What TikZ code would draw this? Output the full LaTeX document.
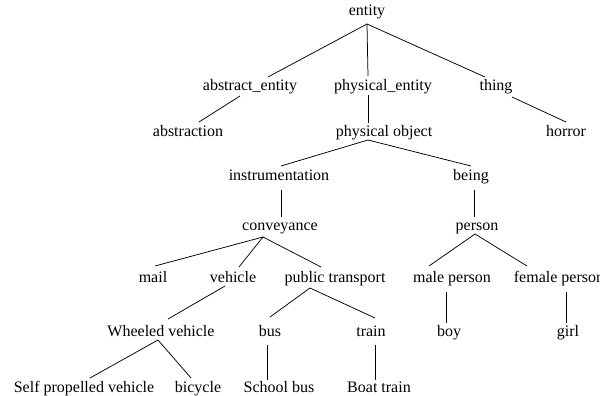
\documentclass[tikz,border=0pt]{standalone}
\usepackage{fontspec}
\setmainfont{Liberation Serif}
\begin{document}
\begin{tikzpicture}[x=1pt,y=-1pt,
  lbl/.style={inner sep=0pt,anchor=base,font=\fontsize{16}{18}\selectfont},
  edge/.style={line width=0.75pt,black}]
\useasboundingbox (0,0) rectangle (600,396);
% nodes
\node[lbl] (entity) at (367,16) {entity};
\node[lbl] (abstract) at (250,91) {abstract\_entity};
\node[lbl] (physical) at (383,91) {physical\_entity};
\node[lbl] (thing) at (496,91) {thing};
\node[lbl] (abstraction) at (188,136) {abstraction};
\node[lbl] (physobj) at (384,136) {physical object};
\node[lbl] (horror) at (566,136) {horror};
\node[lbl] (instr) at (279,180) {instrumentation};
\node[lbl] (being) at (471,180) {being};
\node[lbl] (conv) at (280,230) {conveyance};
\node[lbl] (person) at (477,230) {person};
\node[lbl] (mail) at (153,282) {mail};
\node[lbl] (vehicle) at (233,282) {vehicle};
\node[lbl] (public) at (335,282) {public transport};
\node[lbl] (male) at (452,282) {male person};
\node[lbl] (female) at (559,282) {female person};
\node[lbl] (wheeled) at (161,336) {Wheeled vehicle};
\node[lbl] (bus) at (270,336) {bus};
\node[lbl] (train) at (371,336) {train};
\node[lbl] (boy) at (449,336) {boy};
\node[lbl] (girl) at (568,336) {girl};
\node[lbl] (selfprop) at (84,392) {Self propelled vehicle};
\node[lbl] (bicycle) at (198,392) {bicycle};
\node[lbl] (schoolbus) at (279,392) {School bus};
\node[lbl] (boattrain) at (379,392) {Boat train};
% attachment points
\coordinate (entity-o) at (367,24);
\coordinate (abstract-i) at (268,77);
\coordinate (physical-i) at (368,76);
\coordinate (thing-i) at (485,77);
\coordinate (abstract-o) at (240,96);
\coordinate (abstraction-i) at (199,122);
\coordinate (thing-o) at (512,97);
\coordinate (horror-i) at (566,122);
\coordinate (physical-o) at (368,95);
\coordinate (physobj-i) at (368,123);
\coordinate (physobj-o) at (368,140);
\coordinate (instr-i) at (281,166);
\coordinate (being-i) at (471,166);
\coordinate (instr-o) at (281,190);
\coordinate (conv-i) at (281,217);
\coordinate (being-o) at (474,190);
\coordinate (person-i) at (474,217);
\coordinate (conv-o) at (263,237);
\coordinate (mail-i) at (155,266);
\coordinate (vehicle-i) at (239,267);
\coordinate (public-i) at (321,267);
\coordinate (person-o) at (475,234);
\coordinate (male-i) at (429,266);
\coordinate (female-i) at (527,266);
\coordinate (vehicle-o) at (225,286);
\coordinate (wheeled-i) at (168,319);
\coordinate (public-o) at (310,288);
\coordinate (bus-i) at (270,317);
\coordinate (train-i) at (375,318);
\coordinate (male-o) at (446,292);
\coordinate (boy-i) at (446,323);
\coordinate (female-o) at (566,292);
\coordinate (girl-i) at (566,323);
\coordinate (wheeled-o) at (158,340);
\coordinate (selfprop-i) at (90,378);
\coordinate (bicycle-i) at (191,378);
\coordinate (bus-o) at (267,345);
\coordinate (schoolbus-i) at (267,380);
\coordinate (train-o) at (375,345);
\coordinate (boattrain-i) at (375,380);
% edges
\draw[edge] (entity-o) -- (abstract-i);
\draw[edge] (entity-o) -- (physical-i);
\draw[edge] (entity-o) -- (thing-i);
\draw[edge] (abstract-o) -- (abstraction-i);
\draw[edge] (thing-o) -- (horror-i);
\draw[edge] (physical-o) -- (physobj-i);
\draw[edge] (physobj-o) -- (instr-i);
\draw[edge] (physobj-o) -- (being-i);
\draw[edge] (instr-o) -- (conv-i);
\draw[edge] (being-o) -- (person-i);
\draw[edge] (conv-o) -- (mail-i);
\draw[edge] (conv-o) -- (vehicle-i);
\draw[edge] (conv-o) -- (public-i);
\draw[edge] (person-o) -- (male-i);
\draw[edge] (person-o) -- (female-i);
\draw[edge] (vehicle-o) -- (wheeled-i);
\draw[edge] (public-o) -- (bus-i);
\draw[edge] (public-o) -- (train-i);
\draw[edge] (male-o) -- (boy-i);
\draw[edge] (female-o) -- (girl-i);
\draw[edge] (wheeled-o) -- (selfprop-i);
\draw[edge] (wheeled-o) -- (bicycle-i);
\draw[edge] (bus-o) -- (schoolbus-i);
\draw[edge] (train-o) -- (boattrain-i);
\end{tikzpicture}
\end{document}
